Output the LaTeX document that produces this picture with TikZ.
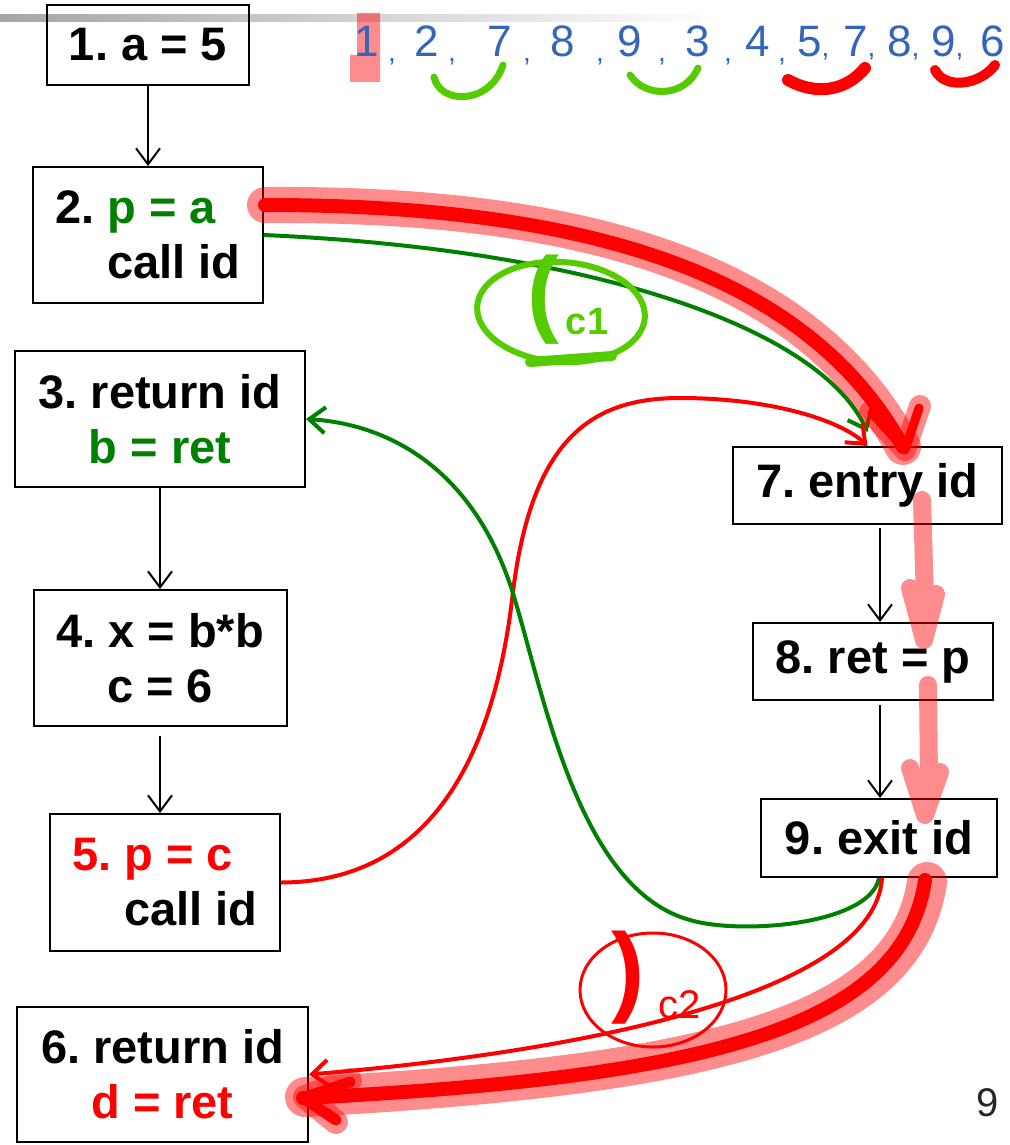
\documentclass[tikz,border=0pt]{standalone}
\usepackage{fontspec}
\setmainfont{Liberation Sans}
\usetikzlibrary{arrows.meta}
\definecolor{callgreen}{HTML}{008000}
\definecolor{retred}{HTML}{FF0000}
\definecolor{inkblue}{HTML}{3366BB}
\definecolor{inklime}{HTML}{55CC00}
\newcommand\stmtfont{\fontsize{47}{55}\selectfont\bfseries\frenchspacing}
\newcommand\inkcomma{{\fontsize{28}{28}\selectfont,}}
\tikzset{
  stmt/.style    ={draw=black,line width=2pt,inner sep=0pt,align=center,font=\stmtfont},
  flow/.style    ={-{Straight Barb[length=16pt,width=24pt]},line width=2pt,draw=black},
  callc/.style   ={-{Straight Barb[length=16pt,width=26pt]},line width=4pt,draw=callgreen},
  retc/.style    ={-{Straight Barb[length=16pt,width=26pt]},line width=4pt,draw=retred},
  marker/.style  ={draw=retred,opacity=.45,line cap=round,line join=round},
  markcore/.style={draw=retred,line cap=round,line join=round},
  ink/.style     ={text=inkblue,font=\fontsize{44}{44}\selectfont,anchor=base,inner sep=0pt},
  inksep/.style  ={text=inkblue,font=\fontsize{28}{28}\selectfont,anchor=base,inner sep=0pt}
}

\begin{document}
\begin{tikzpicture}[x=1pt,y=-1pt]
  \useasboundingbox (0,0) rectangle (1009,1145);
  % header rule
  \shade[left color=black!35,right color=white] (0,15) rectangle (720,22);

  % caller
  \node[stmt,minimum width=202pt,minimum height=80pt] (n1) at (148,45) {1. a = 5};
  \node[stmt,align=left,minimum width=230pt,minimum height=136pt] (n2) at (148,235)
    {2. \textcolor{callgreen}{p = a}\\\phantom{2. }call id};
  \node[stmt,minimum width=290pt,minimum height=136pt] (n3) at (160,419)
    {3. return id\\\textcolor{callgreen}{b = ret}};
  \node[stmt,minimum width=253pt,minimum height=136pt] (n4) at (160,658) {4. x = b*b\\c = 6};
  \node[stmt,align=left,minimum width=230pt,minimum height=137pt] (n5) at (165,882.5)
    {\textcolor{retred}{5. p = c}\\\phantom{5. }call id};
  \node[stmt,minimum width=291pt,minimum height=135pt] (n6) at (162.5,1074.5)
    {6. return id\\\textcolor{retred}{d = ret}};
  % callee
  \node[stmt,minimum width=269pt,minimum height=77pt] (n7) at (867.5,485.5) {7. entry id};
  \node[stmt,minimum width=240pt,minimum height=77pt] (n8) at (873,661.5) {8. ret = p};
  \node[stmt,minimum width=236pt,minimum height=78pt] (n9) at (879,838) {9. exit id};
  \coordinate (col) at (880,0);

  \draw[flow] (n1) -- (n2);
  \draw[flow] (n3.south) -- (n3.south |- n4.north);
  \draw[flow,shorten <=9pt] (n4.south) -- (n4.south |- n5.north);
  \draw[flow,shorten <=3pt] (n7.south -| col) -- (n8.north -| col);
  \draw[flow,shorten <=4pt] (n8.south -| col) -- (n9.north -| col);

  % call and return edges
  \draw[callc] (n2.east) .. controls (600,250) and (820,330) .. ([yshift=14pt]n7.north);
  \draw[retc] (n5.east) .. controls (440,882) and (495,740) .. (512,600)
    .. controls (530,440) and (590,398) .. (680,398)
    .. controls (770,398) and (840,420) .. (n7.north);
  \draw[callc] (n9.south) .. controls (870,925) and (740,935) .. (690,920)
    .. controls (580,890) and (545,700) .. (515,600)
    .. controls (480,480) and (400,425) .. (n3.east);
  \draw[retc] ([xshift=3pt]n9.south) .. controls (875,990) and (600,1050) .. (n6.east);

  % highlighted path
  \draw[marker,line width=36pt] (265,205) .. controls (550,203) and (800,255) .. (903,447);
  \draw[marker,line width=22pt] (870,412) -- (905,450) -- (920,406);
  \draw[markcore,line width=14pt] (265,205) .. controls (550,205) and (800,258) .. (903,447);
  \draw[markcore,line width=9pt] (872,413) -- (905,450) -- (919,408);
  \draw[marker,line width=18pt] (922,500) -- (925,600) (910,588) -- (924,640) -- (936,594);
  \draw[marker,line width=18pt] (928,685) -- (929,780) (910,768) -- (925,815) -- (940,772);
  \draw[marker,line width=40pt] (927,882) .. controls (905,1030) and (700,1075) .. (305,1097);
  \draw[marker,line width=24pt] (350,1080) -- (305,1097) -- (336,1122);
  \draw[markcore,line width=14pt] (925,880) .. controls (903,1030) and (700,1078) .. (303,1098);
  \draw[markcore,line width=11pt] (350,1082) -- (303,1098) -- (336,1120);

  % call-site marks
  \draw[inklime,line width=6pt,rotate around={-4:(561,312)}] (561,312) ellipse [x radius=84pt,y radius=50pt];
  \draw[inklime,line width=10pt,line cap=round] (530,362) -- (612,356);
  \node[text=inklime,font=\fontsize{96}{96}\selectfont\bfseries] (c1open) at (543,300) {(};
  \node[text=inklime,font=\fontsize{38}{38}\selectfont\bfseries] (c1lab) at (587,322) {c1};
  \draw[retred,line width=3pt] (653,990) ellipse [x radius=73pt,y radius=57pt];
  \node[text=retred,font=\fontsize{100}{100}\selectfont\bfseries] (c2close) at (628,978) {)};
  \node[text=retred,font=\fontsize{40}{40}\selectfont] (c2lab) at (680,1005) {c2};

  % visiting order
  \fill[retred,opacity=.45] (357,13) rectangle (380,55) (350,55) rectangle (380,82);
  \foreach \x/\d in {367/1,427/2,500/7,563/8,630/9,698/3,758/4}
    \node[ink] (seq\x) at (\x,57) {\d};
  \foreach \x in {392,452,527,600,662,728,782}
    \node[inksep] (sep\x) at (\x,62) {,};
  \foreach \x/\d in {797/5,843/7,887/8,931/9}
    \node[ink,anchor=base west] (seq\x) at (\x,57) {\d\inkcomma};
  \node[ink,anchor=base west] (seqlast) at (980,57) {6};
  \draw[inklime,line width=7pt,line cap=round] (434,77) .. controls (440,105) and (490,105) .. (503,65);
  \draw[inklime,line width=7pt,line cap=round] (630,75) .. controls (645,98) and (685,98) .. (698,68);
  \draw[retred,line width=12pt,line cap=round] (788,80) .. controls (815,95) and (845,92) .. (865,68);
  \draw[retred,line width=10pt,line cap=round] (935,70) .. controls (945,90) and (980,85) .. (995,65);

  \node[font=\fontsize{40}{40}\selectfont,text=black!85] (pageno) at (988,1103) {9};
\end{tikzpicture}
\end{document}
